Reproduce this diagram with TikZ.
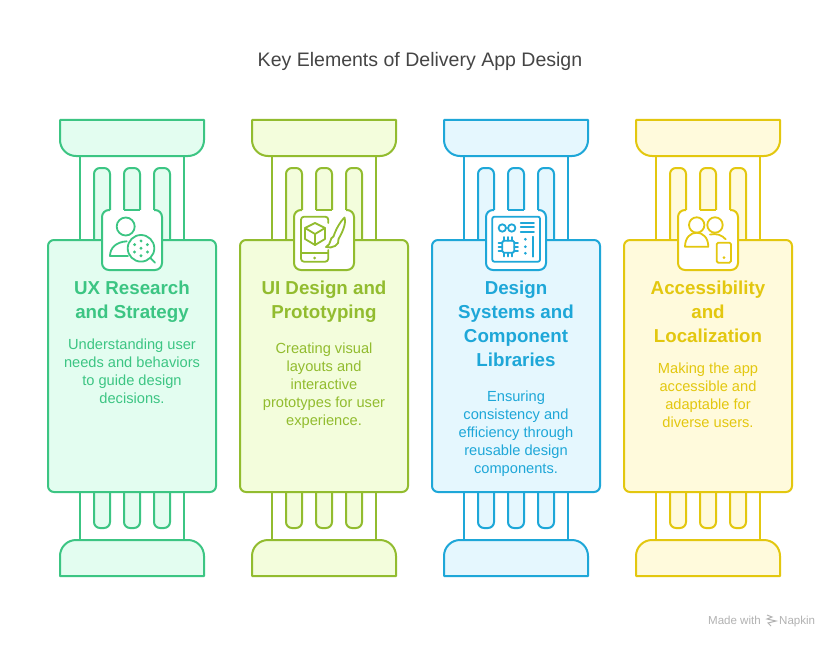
\documentclass[tikz,border=0pt]{standalone}
\usepackage{fontspec}
\setmainfont{Liberation Sans}
\usetikzlibrary{positioning}
\definecolor{mintfill}{HTML}{E3FDF0}
\definecolor{mintline}{HTML}{3CC583}
\definecolor{limefill}{HTML}{F3FDDC}
\definecolor{limeline}{HTML}{92BC2F}
\definecolor{skyfill}{HTML}{E5F7FE}
\definecolor{skyline}{HTML}{1EA7D8}
\definecolor{sandfill}{HTML}{FFFADC}
\definecolor{sandline}{HTML}{E3C70F}
\tikzset{
  part/.style={line width=2bp,line join=round},
  icon/.style={line width=1.8bp,line cap=round,line join=round},
  head node/.style={font=\fontsize{18.8}{24}\selectfont\bfseries,align=center,inner sep=0pt,anchor=north},
  body node/.style={font=\fontsize{14.7}{18}\selectfont,align=center,inner sep=0pt},
}
% one pillar, x offset in #1
\newcommand{\pillar}[3]{
  \begin{scope}[xshift=#1bp,part,draw=#3]
    \draw[fill=white] (32,36) rectangle (136,420);
    % capital and base
    \draw[fill=#2,rounded corners=16bp] (84,36) -- (156,36) [sharp corners] -- (156,0) -- (12,0) [rounded corners=16bp] -- (12,36) -- cycle;
    \draw[fill=#2,rounded corners=16bp] (84,420) -- (156,420) [sharp corners] -- (156,456) -- (12,456) [rounded corners=16bp] -- (12,420) -- cycle;
    % flutes
    \foreach \fx in {46,76,106}{
      \draw[fill=#2,rounded corners=6bp] (\fx,130) -- (\fx,48) -- (\fx+16,48) [sharp corners] -- (\fx+16,130);
      \draw[fill=#2,rounded corners=6bp] (\fx,362) -- (\fx,408) -- (\fx+16,408) [sharp corners] -- (\fx+16,362);
    }
    \draw[fill=#2,rounded corners=6bp] (0,120) rectangle (168,372);
    % icon plate
    \fill[white,rounded corners=7bp] (54,90) rectangle (114,150);
    \draw[rounded corners=7bp] (62,90) -- (54,90) -- (54,150) -- (114,150) -- (114,90) -- (106,90);
    \draw (76,90) -- (92,90);
  \end{scope}
}
\begin{document}
\begin{tikzpicture}[x=1bp,y=-1bp]
  \useasboundingbox (0,0) rectangle (840,648);
  \fill[white] (0,0) rectangle (840,648);
  \node[font=\fontsize{19.6}{24}\selectfont,text=black!73,inner sep=0pt] (title) at (420,61) {Key Elements of Delivery App Design};

  \foreach \cx/\cfill/\cline in {48/mintfill/mintline,240/limefill/limeline,432/skyfill/skyline,624/sandfill/sandline}{
    \begin{scope}[yshift=-120bp]
      \pillar{\cx}{\cfill}{\cline}
    \end{scope}
  }

  % icon, research
  \begin{scope}[icon,draw=mintline]
    \draw (125.7,226.5) circle[radius=9];
    \draw (126.7,241.3) .. controls (116,242) and (110,248) .. (110,256) -- (128,256);
    \draw[fill=white] (141,248.3) circle[radius=13.3];
    \draw (150.5,258) -- (155,262.7);
    \fill[mintline] (141,248.3) circle[radius=1.6];
    \foreach \da in {30,90,...,330}{
      \fill[mintline] (141,248.3)+(\da:7.4) circle[radius=1.6];
    }
  \end{scope}

  % icon, phone and brush
  \begin{scope}[icon,draw=limeline]
    \draw[rounded corners=3bp] (328.3,223) -- (328.3,216.7) -- (301,216.7) -- (301,261.7) -- (328.3,261.7) -- (328.3,250);
    \draw (301,253.3) -- (328.3,253.3);
    \fill[limeline] (314.5,258) circle[radius=1.5];
    \draw (315,223) -- (325,228) -- (325,239) -- (315,245) -- (305,239) -- (305,228) -- cycle;
    \draw (305,228) -- (315,234) -- (325,228) (315,234) -- (315,245);
    \draw (333.5,236.5) .. controls (336,229) and (340,222) .. (344.5,217.5) .. controls (346.5,224) and (342,233) .. (338.5,239);
    \draw (333.5,236.5) .. controls (329,238) and (332,244) .. (326,247) .. controls (332,249) and (340,245) .. (338.5,239);
  \end{scope}

  % icon, board with chip
  \begin{scope}[icon,draw=skyline]
    \draw[rounded corners=2bp] (492.3,216.7) rectangle (540,261.7);
    \draw (502.3,228) circle[radius=3.7] (511.7,228) circle[radius=3.7];
    \draw (520.7,222.7) -- (534,222.7) (520.7,227.3) -- (534,227.3) (520.7,232) -- (534,232);
    \draw[rounded corners=1.5bp] (502.3,240.7) rectangle (514.3,252.7);
    \foreach \pn in {-4,0,4}{
      \draw (508.3+\pn,237) -- (508.3+\pn,240.7) (508.3+\pn,252.7) -- (508.3+\pn,256.4);
      \draw (498.6,246.7+\pn) -- (502.3,246.7+\pn) (514.3,246.7+\pn) -- (518,246.7+\pn);
    }
    \fill[skyline] (525.3,239.3) circle[radius=1.5] (525.3,246.7) circle[radius=1.5] (525.3,253.3) circle[radius=1.5];
    \draw (532.7,236.7) -- (532.7,256.7);
  \end{scope}

  % icon, two people and phone
  \begin{scope}[icon,draw=sandline]
    \draw (696.7,225) circle[radius=7.7] (715,225) circle[radius=7.7];
    \draw (685,246.7) .. controls (685,228) and (708.3,228) .. (708.3,246.7) -- cycle;
    \draw (710,234.6) .. controls (716,233) and (722,235) .. (725.7,239.3);
    \draw[rounded corners=1.5bp] (716.7,242.7) rectangle (731,262.7);
    \fill[sandline] (724,257.7) circle[radius=1.5];
  \end{scope}

  \node[head node,text=mintline] (head1) at (132,281) {UX Research\\and Strategy};
  \node[body node,text=mintline,below=16bp of head1] (body1) {Understanding user\\needs and behaviors\\to guide design\\decisions.};
  \node[head node,text=limeline] (head2) at (324,281) {UI Design and\\Prototyping};
  \node[body node,text=limeline,below=20bp of head2] (body2) {Creating visual\\layouts and\\interactive\\prototypes for user\\experience.};
  \node[head node,text=skyline] (head3) at (516,281) {Design\\Systems and\\Component\\Libraries};
  \node[body node,text=skyline,below=24bp of head3] (body3) {Ensuring\\consistency and\\efficiency through\\reusable design\\components.};
  \node[head node,text=sandline] (head4) at (708,281) {Accessibility\\and\\Localization};
  \node[body node,text=sandline,below=20bp of head4] (body4) {Making the app\\accessible and\\adaptable for\\diverse users.};

  % footer mark
  \node[font=\fontsize{11.6}{13}\selectfont,text=black!30,inner sep=0pt,anchor=base east] (made) at (761,624) {Made with};
  \node[font=\fontsize{11.6}{13}\selectfont,text=black!30,inner sep=0pt,anchor=base west] (napkin) at (779,624) {Napkin};
  \draw[black!30,line width=1bp] (767,615) -- (772,617) -- (767,619) -- (776,621) -- (768,623) -- (771,626);
\end{tikzpicture}
\end{document}
